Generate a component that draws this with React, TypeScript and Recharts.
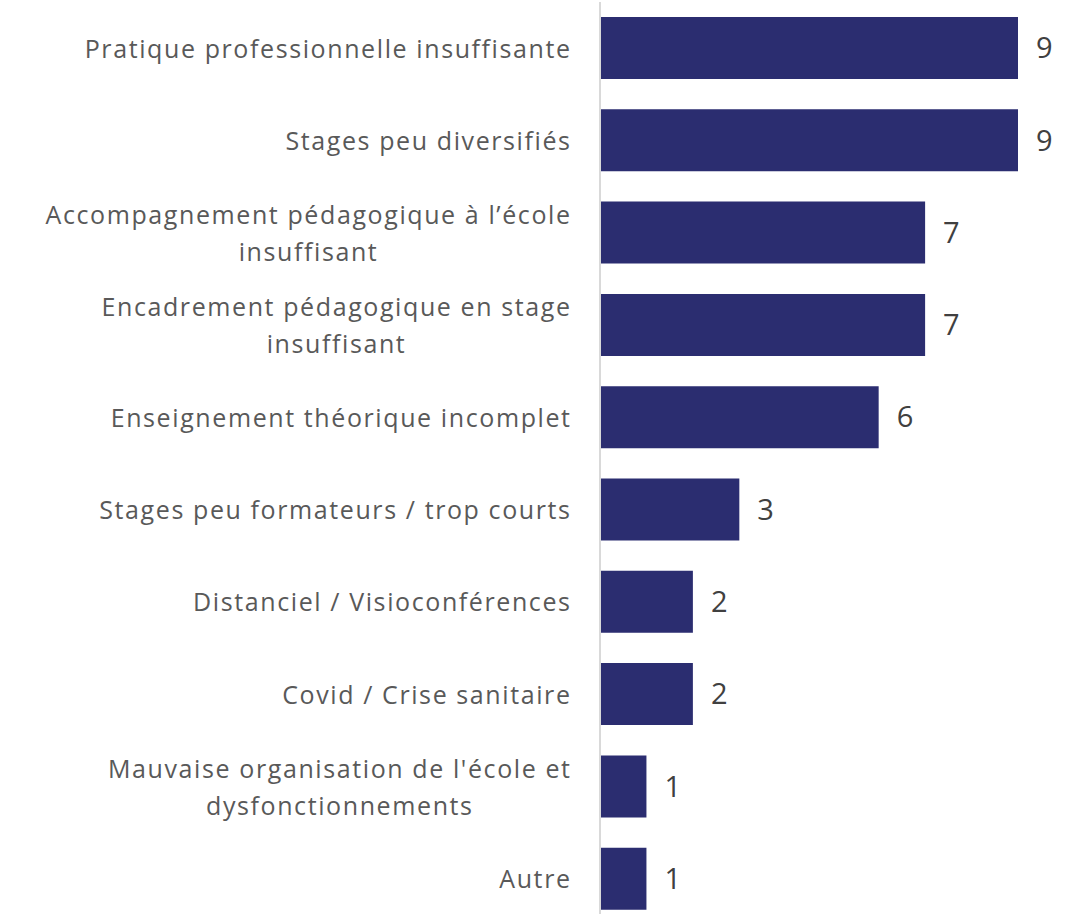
import { Bar, BarChart, LabelList, XAxis, YAxis } from "recharts";

const categories = [
  "Pratique professionnelle insuffisante",
  "Stages peu diversifiés",
  "Accompagnement pédagogique à l’école\ninsuffisant",
  "Encadrement pédagogique en stage\ninsuffisant",
  "Enseignement théorique incomplet",
  "Stages peu formateurs / trop courts",
  "Distanciel / Visioconférences",
  "Covid / Crise sanitaire",
  "Mauvaise organisation de l'école et\ndysfonctionnements",
  "Autre",
];

const counts = [9, 9, 7, 7, 6, 3, 2, 2, 1, 1];

const data = categories.map((name, i) => ({ name, value: counts[i] }));

const LabelTick = (props: any) => {
  const { x, y, payload } = props;
  const lines = String(payload.value).split("\n");
  return (
    <foreignObject x={x - 30 - 580} y={y - 46} width={580} height={92}>
      <div
        style={{
          width: 580,
          height: 92,
          display: "flex",
          alignItems: "center",
          justifyContent: "flex-end",
        }}
      >
        <div
          style={{
            textAlign: "center",
            fontFamily: "'Open Sans', sans-serif",
            fontSize: 25,
            letterSpacing: 1.6,
            lineHeight: "37px",
            color: "#595959",
            whiteSpace: "nowrap",
            marginRight: -1.6,
          }}
        >
          {lines.map((l, i) => (
            <div key={i}>{l}</div>
          ))}
        </div>
      </div>
    </foreignObject>
  );
};

export default function App() {
  return (
    <div
      style={{
        position: "absolute",
        left: 0,
        top: 0,
        width: 1076,
        height: 914,
        overflow: "hidden",
        background: "#fff",
      }}
    >
      <BarChart
        width={1076}
        height={930}
        data={data}
        layout="vertical"
        margin={{ top: 2, right: 58, bottom: 5, left: 0 }}
      >
        <XAxis type="number" domain={[0, 9]} hide />
        <YAxis
          type="category"
          dataKey="name"
          width={600}
          tickLine={false}
          tickSize={0}
          tickMargin={0}
          axisLine={{ stroke: "#d9d9d9", strokeWidth: 2 }}
          tick={<LabelTick />}
          interval={0}
        />
        <Bar dataKey="value" fill="#2B2D70" barSize={62} isAnimationActive={false}>
          <LabelList
            dataKey="value"
            position="right"
            offset={18}
            style={{ fontFamily: "'Open Sans', sans-serif", fontSize: 29, fill: "#404040" }}
          />
        </Bar>
      </BarChart>
    </div>
  );
}
